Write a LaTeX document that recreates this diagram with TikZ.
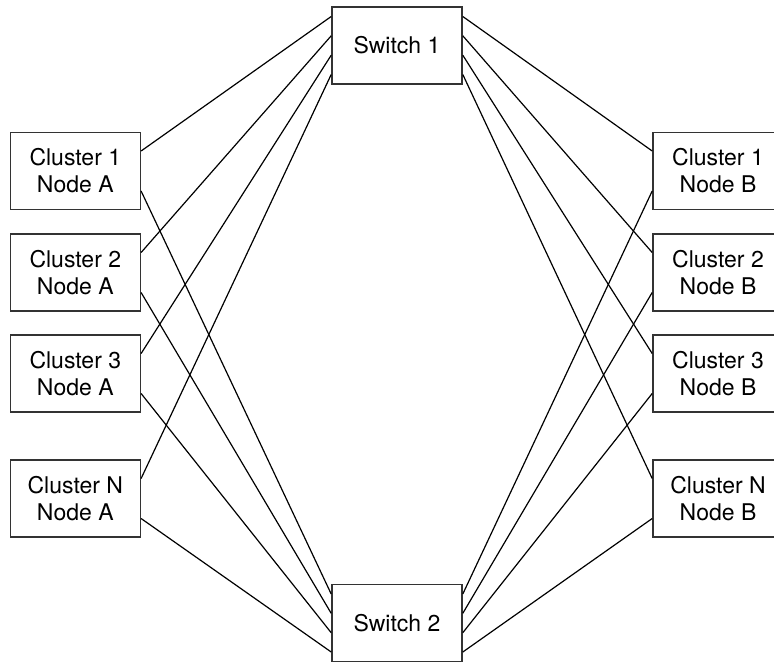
\documentclass[tikz,border=0pt]{standalone}
\usepackage{fontspec}
\setmainfont{TeX Gyre Heros}

\tikzstyle{box}=[draw=black!80, line width=1.6pt, minimum width=130pt, minimum height=77pt, align=center, font=\fontsize{23}{27}\selectfont]
\tikzstyle{link}=[line width=1.2pt]

\begin{document}
\begin{tikzpicture}[x=1pt, y=-1pt]
      \useasboundingbox (0,0) rectangle (774,662);
      \clip (0,0) rectangle (774,662);
      \node[box] (s1) at (397,45.5) {Switch 1};
      \node[box] (s2) at (397,623) {Switch 2};
      \foreach \i/\y [count=\k] in {1/171, 2/272.5, 3/373.5, N/498.5} {%
        \node[box] (a\k) at (75.3,\y) {Cluster \i\\Node A};
        \node[box] (b\k) at (718,\y) {Cluster \i\\Node B};
      }
      % each cluster node goes to both switches
      \foreach \k/\off in {1/29, 2/9.7, 3/-9.7, 4/-29} {%
        \draw[link] ([yshift=20pt]a\k.east) -- ([yshift=\off pt]s1.west);
        \draw[link] ([yshift=-20pt]a\k.east) -- ([yshift=\off pt]s2.west);
        \draw[link] ([yshift=\off pt]s1.east) -- ([yshift=20pt]b\k.west);
        \draw[link] ([yshift=\off pt]s2.east) -- ([yshift=-20pt]b\k.west);
      }
\end{tikzpicture}
\end{document}
